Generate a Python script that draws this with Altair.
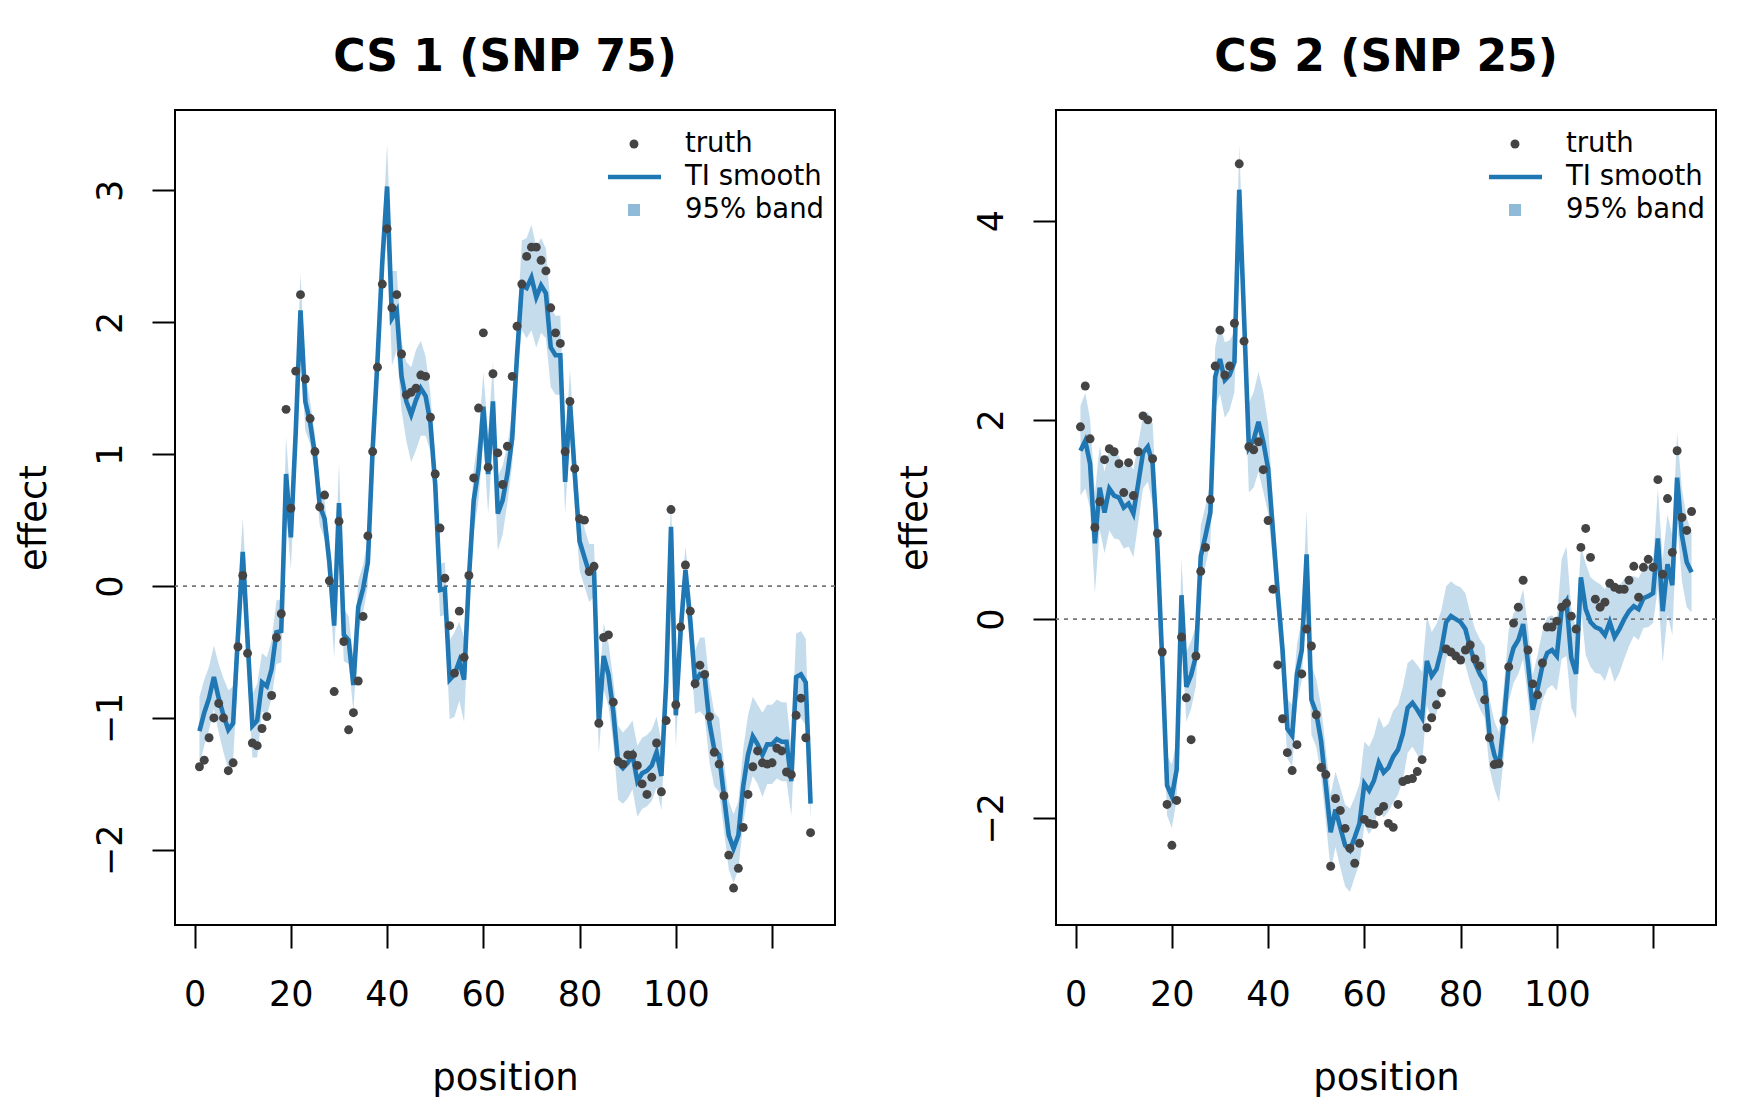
import altair as alt
import pandas as pd

positions = list(range(1, 129))

truth1 = [
    -1.37, -1.32, -1.15, -1.00, -0.89, -1.00, -1.40, -1.34, -0.46, 0.08,
    -0.51, -1.19, -1.21, -1.08, -0.99, -0.83, -0.39, -0.21, 1.34, 0.59,
    1.63, 2.21, 1.57, 1.27, 1.02, 0.60, 0.69, 0.04, -0.80, 0.49,
    -0.42, -1.09, -0.96, -0.72, -0.23, 0.38, 1.02, 1.66, 2.29, 2.71,
    2.11, 2.21, 1.76, 1.45, 1.47, 1.50, 1.60, 1.59, 1.28, 0.85,
    0.44, 0.06, -0.30, -0.66, -0.19, -0.54, 0.08, 0.82, 1.35, 1.92,
    0.90, 1.61, 1.01, 0.77, 1.06, 1.59, 1.97, 2.29, 2.50, 2.57,
    2.57, 2.47, 2.39, 2.11, 1.92, 1.84, 1.02, 1.40, 0.89, 0.51,
    0.50, 0.11, 0.15, -1.04, -0.39, -0.37, -0.88, -1.33, -1.35, -1.28,
    -1.28, -1.36, -1.50, -1.58, -1.45, -1.19, -1.56, -1.02, 0.58, -0.90,
    -0.31, 0.16, -0.19, -0.74, -0.60, -0.67, -0.99, -1.26, -1.35, -1.59,
    -2.04, -2.29, -2.14, -1.83, -1.58, -1.37, -1.25, -1.34, -1.35, -1.34,
    -1.23, -1.25, -1.41, -1.43, -0.98, -0.85, -1.15, -1.87]

smooth1 = [
    -1.10, -0.96, -0.85, -0.69, -0.85, -0.98, -1.09, -1.04, -0.38, 0.26,
    -0.41, -1.06, -1.02, -0.73, -0.76, -0.63, -0.35, -0.34, 0.85, 0.37,
    1.16, 2.09, 1.40, 1.24, 1.00, 0.61, 0.51, 0.18, -0.30, 0.63,
    -0.37, -0.41, -0.75, -0.16, -0.02, 0.18, 1.04, 1.71, 2.46, 3.03,
    2.03, 2.09, 1.59, 1.40, 1.30, 1.41, 1.50, 1.44, 1.24, 0.77,
    -0.03, -0.02, -0.71, -0.67, -0.57, -0.71, 0.06, 0.65, 0.89, 1.36,
    0.85, 1.40, 0.55, 0.65, 0.85, 1.12, 1.75, 2.28, 2.26, 2.34,
    2.19, 2.28, 2.22, 1.81, 1.75, 1.75, 0.79, 1.40, 0.85, 0.34,
    0.22, 0.10, 0.12, -1.04, -0.53, -0.67, -0.95, -1.34, -1.38, -1.34,
    -1.28, -1.48, -1.42, -1.40, -1.36, -1.26, -1.44, -0.73, 0.45, -0.98,
    -0.34, 0.12, -0.26, -0.73, -0.67, -0.69, -1.04, -1.24, -1.28, -1.59,
    -1.89, -1.99, -1.89, -1.52, -1.28, -1.14, -1.20, -1.28, -1.20, -1.20,
    -1.16, -1.18, -1.18, -1.48, -0.69, -0.67, -0.73, -1.65]

band_half1 = [
    0.26, 0.25, 0.24, 0.24, 0.26, 0.28, 0.30, 0.28, 0.28, 0.26,
    0.26, 0.24, 0.28, 0.22, 0.22, 0.22, 0.24, 0.24, 0.28, 0.24,
    0.26, 0.28, 0.22, 0.16, 0.15, 0.15, 0.15, 0.16, 0.25, 0.30,
    0.20, 0.18, 0.20, 0.20, 0.18, 0.18, 0.15, 0.16, 0.18, 0.32,
    0.36, 0.30, 0.26, 0.30, 0.36, 0.38, 0.36, 0.30, 0.22, 0.18,
    0.20, 0.20, 0.30, 0.32, 0.30, 0.32, 0.24, 0.24, 0.24, 0.26,
    0.30, 0.30, 0.28, 0.26, 0.22, 0.20, 0.20, 0.34, 0.38, 0.40,
    0.38, 0.36, 0.34, 0.30, 0.30, 0.30, 0.24, 0.24, 0.24, 0.22,
    0.22, 0.22, 0.20, 0.23, 0.25, 0.24, 0.24, 0.28, 0.27, 0.27,
    0.26, 0.27, 0.27, 0.27, 0.27, 0.27, 0.26, 0.24, 0.22, 0.24,
    0.22, 0.18, 0.22, 0.24, 0.28, 0.30, 0.30, 0.28, 0.28, 0.26,
    0.26, 0.26, 0.26, 0.28, 0.30, 0.30, 0.30, 0.32, 0.30, 0.30,
    0.30, 0.30, 0.30, 0.26, 0.33, 0.33, 0.33, 0.12]

truth2 = [
    1.93, 2.34, 1.81, 0.92, 1.18, 1.60, 1.71, 1.68, 1.56, 1.27,
    1.57, 1.24, 1.68, 2.04, 2.00, 1.61, 0.86, -0.33, -1.86, -2.27,
    -1.82, -0.18, -0.79, -1.21, -0.37, 0.48, 0.72, 1.20, 2.54, 2.90,
    2.45, 2.54, 2.97, 4.57, 2.79, 1.73, 1.70, 1.78, 1.50, 0.99,
    0.30, -0.46, -1.00, -1.34, -1.52, -1.26, -0.55, -0.10, -0.27, -0.96,
    -1.49, -1.56, -2.48, -1.80, -1.92, -2.10, -2.30, -2.45, -2.25, -2.01,
    -2.05, -2.06, -1.93, -1.88, -2.05, -2.09, -1.86, -1.63, -1.61, -1.60,
    -1.53, -1.41, -1.09, -0.99, -0.86, -0.74, -0.30, -0.33, -0.37, -0.41,
    -0.31, -0.26, -0.40, -0.47, -0.81, -1.19, -1.46, -1.45, -1.02, -0.48,
    -0.04, 0.12, 0.39, -0.31, -0.65, -0.76, -0.44, -0.08, -0.08, -0.02,
    0.12, 0.16, 0.03, -0.10, 0.72, 0.91, 0.62, 0.20, 0.12, 0.17,
    0.36, 0.32, 0.30, 0.30, 0.39, 0.53, 0.22, 0.52, 0.60, 0.52,
    1.40, 0.45, 1.21, 0.67, 1.69, 1.02, 0.89, 1.08]

smooth2 = [
    1.69, 1.79, 1.56, 0.76, 1.32, 1.07, 1.31, 1.24, 1.22, 1.12,
    1.16, 1.06, 1.36, 1.67, 1.73, 1.56, 0.72, -0.42, -1.67, -1.78,
    -1.51, 0.24, -0.68, -0.56, -0.37, 0.63, 0.84, 1.07, 2.43, 2.61,
    2.40, 2.45, 2.58, 4.31, 3.03, 1.72, 1.80, 1.98, 1.78, 1.51,
    0.89, 0.26, -0.31, -1.10, -1.17, -0.55, -0.31, 0.65, -0.81, -0.94,
    -1.22, -1.67, -2.14, -1.91, -2.09, -2.27, -2.32, -2.19, -2.05, -1.65,
    -1.72, -1.62, -1.44, -1.54, -1.49, -1.38, -1.31, -1.15, -0.89, -0.84,
    -0.91, -0.99, -0.42, -0.57, -0.50, -0.31, -0.03, 0.03, 0.00, -0.03,
    -0.10, -0.29, -0.44, -0.55, -0.63, -1.15, -1.36, -1.49, -1.02, -0.47,
    -0.29, -0.21, -0.05, -0.44, -0.91, -0.70, -0.47, -0.34, -0.31, -0.37,
    0.10, 0.18, -0.39, -0.55, 0.42, 0.10, -0.03, -0.08, -0.10, -0.16,
    -0.03, -0.18, -0.10, 0.00, 0.08, 0.13, 0.10, 0.21, 0.23, 0.26,
    0.81, 0.08, 0.55, 0.34, 1.42, 0.84, 0.57, 0.47]

band_half2 = [
    0.45, 0.48, 0.45, 0.50, 0.42, 0.41, 0.42, 0.43, 0.42, 0.41,
    0.43, 0.44, 0.40, 0.36, 0.35, 0.40, 0.30, 0.30, 0.30, 0.32,
    0.30, 0.36, 0.35, 0.34, 0.30, 0.31, 0.30, 0.30, 0.30, 0.35,
    0.38, 0.35, 0.30, 0.45, 0.40, 0.45, 0.48, 0.50, 0.50, 0.45,
    0.31, 0.30, 0.30, 0.30, 0.31, 0.30, 0.30, 0.45, 0.35, 0.34,
    0.35, 0.36, 0.38, 0.38, 0.40, 0.41, 0.42, 0.40, 0.40, 0.42,
    0.44, 0.45, 0.46, 0.45, 0.44, 0.46, 0.45, 0.47, 0.45, 0.44,
    0.45, 0.46, 0.45, 0.44, 0.45, 0.40, 0.36, 0.35, 0.34, 0.35,
    0.36, 0.35, 0.34, 0.35, 0.36, 0.35, 0.34, 0.35, 0.35, 0.36,
    0.35, 0.34, 0.35, 0.36, 0.35, 0.34, 0.35, 0.36, 0.35, 0.35,
    0.50, 0.55, 0.50, 0.45, 0.30, 0.46, 0.45, 0.46, 0.45, 0.46,
    0.44, 0.45, 0.44, 0.40, 0.35, 0.30, 0.31, 0.30, 0.31, 0.30,
    0.50, 0.52, 0.50, 0.50, 0.45, 0.46, 0.45, 0.40]

x_ticks = [0, 20, 40, 60, 80, 100, 120]
y_ticks1 = [-2, -1, 0, 1, 2, 3]
y_ticks2 = [-2, 0, 2, 4]
titles = ["CS 1 (SNP 75)", "CS 2 (SNP 25)"]
legend_labels = ["truth", "TI smooth", "95% band"]

BLUE = "#1f77b4"
DOT = "#444444"
FONT = "DejaVu Sans"


def panel(truth, smooth, half, title, ydomain, yticks):
    df = pd.DataFrame({
        "position": positions,
        "truth": truth,
        "smooth": smooth,
        "lo": [s - h for s, h in zip(smooth, half)],
        "hi": [s + h for s, h in zip(smooth, half)],
    })
    xs = alt.Scale(domain=[-4.08, 133.08], nice=False, zero=False)
    ys = alt.Scale(domain=ydomain, nice=False, zero=False)
    xaxis = alt.Axis(values=x_ticks, title="position",
                     labelExpr="datum.value == 120 ? '' : datum.label",
                     labelPadding=29, titlePadding=48, labelFlush=False)
    yaxis = alt.Axis(values=yticks, title="effect", labelAngle=270,
                     labelPadding=24, titlePadding=40)

    def X():
        return alt.X("position:Q", scale=xs, axis=xaxis)

    def Y(field):
        return alt.Y(field, scale=ys, axis=yaxis)

    base = alt.Chart(df)
    band = base.mark_area(color=BLUE, opacity=0.26).encode(
        x=X(), y=Y("lo:Q"), y2="hi:Q")
    zero = alt.Chart(pd.DataFrame({"z": [0.0]})).mark_rule(
        color="#777777", strokeDash=[4, 5], strokeWidth=1.6).encode(y=Y("z:Q"))
    line = base.mark_line(color=BLUE, strokeWidth=4.6).encode(x=X(), y=Y("smooth:Q"))
    pts = base.mark_circle(color=DOT, opacity=1, size=80).encode(x=X(), y=Y("truth:Q"))

    one = alt.Chart(pd.DataFrame({"k": [0]}))
    leg_dot = one.mark_circle(color=DOT, opacity=1, size=80).encode(
        x=alt.value(459), y=alt.value(34))
    leg_line = one.mark_rule(color=BLUE, strokeWidth=4.6).encode(
        x=alt.value(433), x2=alt.value(486), y=alt.value(67))
    leg_sq = one.mark_square(color=BLUE, opacity=0.5, size=144).encode(
        x=alt.value(459), y=alt.value(100))
    texts = []
    for lab, yy in zip(legend_labels, [34, 67, 100]):
        texts.append(one.mark_text(align="left", baseline="middle", fontSize=27.5,
                                   font=FONT, color="black").encode(
            x=alt.value(510), y=alt.value(yy), text=alt.value(lab)))

    return alt.layer(band, zero, line, pts, leg_dot, leg_line, leg_sq, *texts).properties(
        width=660, height=815, title=title)


p1 = panel(truth1, smooth1, band_half1, titles[0], [-2.57, 3.61], y_ticks1)
p2 = panel(truth2, smooth2, band_half2, titles[1], [-3.07, 5.11], y_ticks2)

chart = alt.hconcat(p1, p2, spacing=58).properties(
    padding={"left": 6, "top": 27, "right": 5, "bottom": 0}
).configure_view(stroke="black", strokeWidth=2).configure_axis(
    grid=False, domain=False, tickColor="black", tickWidth=2, tickSize=23,
    labelFont=FONT, labelFontSize=35, labelColor="black",
    titleFont=FONT, titleFontSize=37, titleFontWeight="normal", titleColor="black"
).configure_title(
    font=FONT, fontSize=44, fontWeight="bold", color="black", anchor="middle", offset=30
)

chart.save("out.html", embed_options={"renderer": "svg", "actions": False})
